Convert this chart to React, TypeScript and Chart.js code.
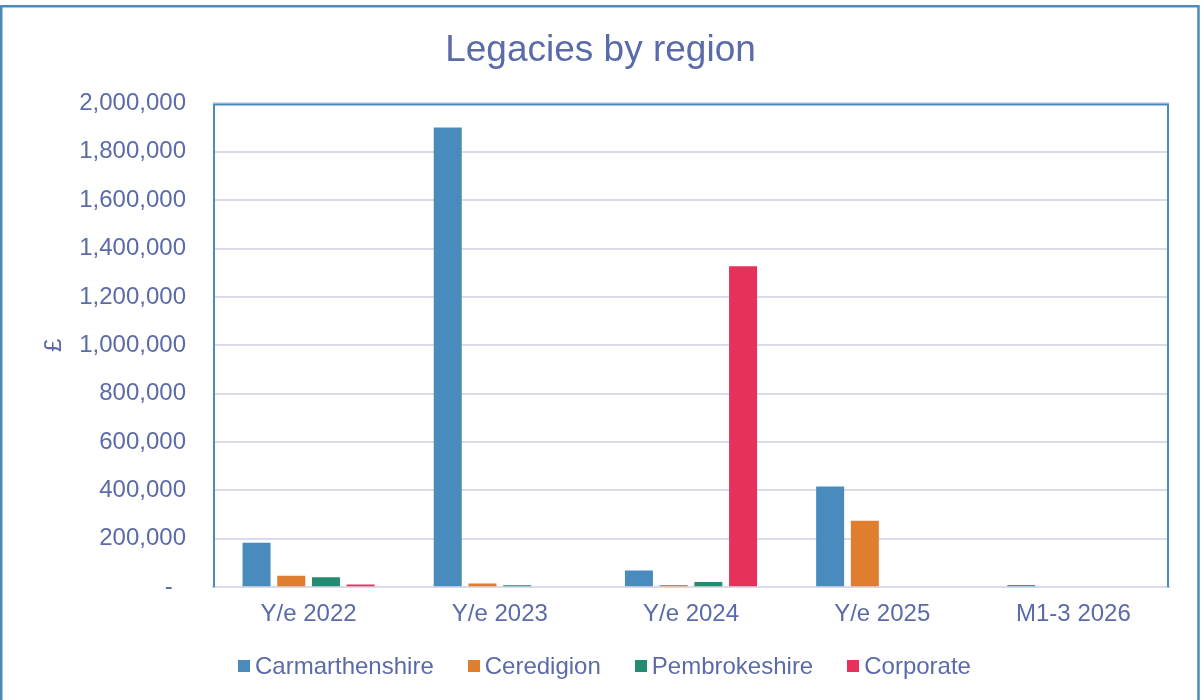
import React, { useEffect, useRef } from "react";
import { Chart, registerables } from "chart.js";

Chart.register(...registerables);

const categories = ["Y/e 2022", "Y/e 2023", "Y/e 2024", "Y/e 2025", "M1-3 2026"];
const carmarthenshire = [184000, 1900000, 69000, 416000, 9000];
const ceredigion = [47000, 15000, 9000, 275000, 0];
const pembrokeshire = [41000, 8000, 21000, 0, 0];
const corporate = [11000, 0, 1327000, 0, 0];
const seriesNames = ["Carmarthenshire", "Ceredigion", "Pembrokeshire", "Corporate"];
const seriesColors = ["#4a8bbd", "#e07e2f", "#238b70", "#e6325b"];
const yMax = 2000000;
const yStep = 200000;

const FONT = '"Liberation Sans", Arial, sans-serif';
const TEXT = "#5b6ba9";
const BLUE = "#4a8bbe";
const GRID = "#dadae8";

const borders = {
  id: "borders",
  afterDraw(chart: any) {
    const { ctx, chartArea } = chart;
    ctx.save();
    ctx.strokeStyle = BLUE;
    ctx.lineWidth = 2.5;
    ctx.strokeRect(1.25, 6.25, 1197.25, 800);
    ctx.lineWidth = 2;
    ctx.beginPath();
    ctx.moveTo(chartArea.left + 1, chartArea.bottom);
    ctx.lineTo(chartArea.left + 1, chartArea.top + 1);
    ctx.lineTo(chartArea.right - 1, chartArea.top + 1);
    ctx.lineTo(chartArea.right - 1, chartArea.bottom);
    ctx.stroke();
    ctx.restore();
  },
};

export default function App() {
  const ref = useRef<HTMLCanvasElement>(null);
  useEffect(() => {
    if (!ref.current) return;
    const all = [carmarthenshire, ceredigion, pembrokeshire, corporate];
    const chart = new Chart(ref.current, {
      type: "bar",
      data: {
        labels: categories,
        datasets: all.map((d, i) => ({
          label: seriesNames[i],
          data: d,
          backgroundColor: seriesColors[i],
          borderWidth: 0,
          categoryPercentage: 0.726,
          barPercentage: 0.807,
        })),
      },
      options: {
        responsive: false,
        animation: false,
        layout: { padding: { left: 0, top: 0, right: 0, bottom: 58 } },
        plugins: {
          legend: { display: false },
          tooltip: { enabled: false },
          title: {
            display: true,
            text: "Legacies by region",
            color: TEXT,
            font: { family: FONT, size: 37, weight: "normal" },
            padding: { top: 29, bottom: 30 },
          },
        },
        scales: {
          x: {
            grid: { display: false, drawTicks: false },
            border: { display: true, color: GRID, width: 2 },
            ticks: { color: TEXT, font: { family: FONT, size: 24 }, padding: 13, maxRotation: 0 },
          },
          y: {
            min: 0,
            max: yMax,
            afterFit: (s: any) => {
              s.width = 213;
            },
            grid: { color: GRID, lineWidth: 2, drawTicks: false },
            border: { display: false },
            title: {
              display: true,
              text: "£",
              color: TEXT,
              font: { family: FONT, size: 24 },
              padding: { top: 40, bottom: 0 },
            },
            ticks: {
              stepSize: yStep,
              color: TEXT,
              font: { family: FONT, size: 24 },
              padding: 27,
              callback: (v: any) => (Number(v) === 0 ? "-  " : Number(v).toLocaleString("en-US")),
            },
          },
          yRight: {
            position: "right",
            display: true,
            min: 0,
            max: yMax,
            grid: { display: false, drawTicks: false },
            border: { display: false },
            ticks: { display: false },
            afterFit: (s: any) => {
              s.width = 32;
            },
          },
        },
      },
      plugins: [borders],
    });
    return () => chart.destroy();
  }, []);

  return (
    <div style={{ position: "fixed", left: 0, top: 0, width: 1201, height: 700, background: "#fff" }}>
      <canvas ref={ref} width={1201} height={700} style={{ display: "block" }} />
      <div
        style={{
          position: "absolute",
          left: 238,
          top: 651,
          height: 30,
          display: "flex",
          alignItems: "center",
          gap: 34,
          fontFamily: FONT,
          fontSize: 24,
          color: TEXT,
          lineHeight: "30px",
          whiteSpace: "nowrap",
        }}
      >
        {seriesNames.map((n, i) => (
          <div key={n} style={{ display: "flex", alignItems: "center" }}>
            <span style={{ display: "inline-block", width: 12, height: 12, background: seriesColors[i], marginRight: 5 }} />
            <span>{n}</span>
          </div>
        ))}
      </div>
    </div>
  );
}
